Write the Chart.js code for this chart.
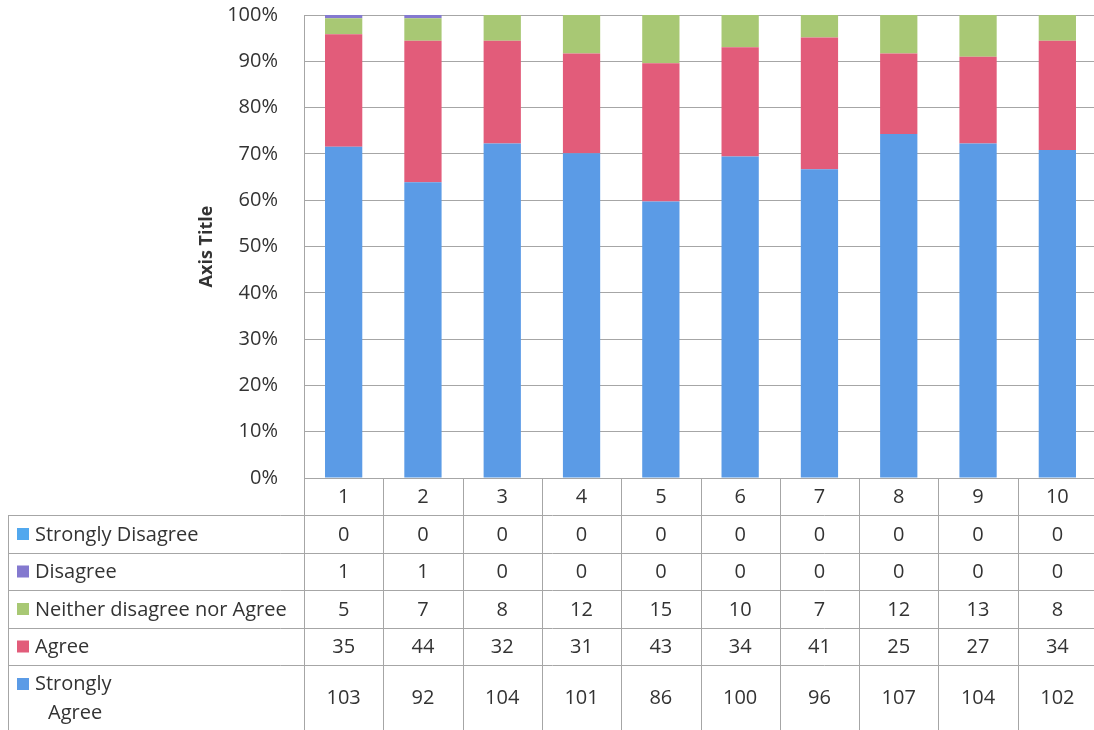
<!DOCTYPE html>
<html>
<head>
<meta charset="utf-8">
<script src="https://cdn.jsdelivr.net/npm/chart.js@4.4.1/dist/chart.umd.min.js"></script>
<style>
  body { margin: 0; background: #fff; overflow: hidden; }
  #wrap { width: 1098px; height: 730px; }
</style>
</head>
<body>
<div id="wrap"><canvas id="chart" width="1098" height="730"></canvas></div>
<script>
const categories = ['1', '2', '3', '4', '5', '6', '7', '8', '9', '10'];

const stronglyDisagree = [0, 0, 0, 0, 0, 0, 0, 0, 0, 0];
const disagree = [1, 1, 0, 0, 0, 0, 0, 0, 0, 0];
const neither = [5, 7, 8, 12, 15, 10, 7, 12, 13, 8];
const agree = [35, 44, 32, 31, 43, 34, 41, 25, 27, 34];
const stronglyAgree = [103, 92, 104, 101, 86, 100, 96, 107, 104, 102];

const seriesNames = ['Strongly Disagree', 'Disagree', 'Neither disagree nor Agree', 'Agree', 'Strongly Agree'];
const seriesColors = ['#52a8ee', '#8479cf', '#a8c874', '#e25c7a', '#5b9be6'];
const seriesValues = [stronglyDisagree, disagree, neither, agree, stronglyAgree];

const FONT = "'Open Sans', 'Noto Sans', sans-serif";
const TEXT = '#333333';
const LINE = '#a6a6a6';

// 100% stacked: each column as share of its total
const totals = categories.map((c, i) => seriesValues.reduce((s, arr) => s + arr[i], 0));
const share = arr => arr.map((v, i) => v / totals[i] * 100);

// bottom of stack first
const datasets = seriesNames.map((name, k) => ({
    label: name,
    data: share(seriesValues[k]),
    backgroundColor: seriesColors[k],
    borderWidth: 0,
    categoryPercentage: 1,
    barPercentage: 0.47
})).reverse();

const tablePlugin = {
    id: 'dataTable',
    afterDraw(chart) {
        const ctx = chart.ctx;
        const area = chart.chartArea;
        const n = categories.length;
        const colW = (area.right - area.left) / n;
        const headTop = area.bottom;
        const rowTops = [headTop, 515, 553, 590, 628, 665, 730];
        const tableLeft = 8;

        ctx.save();
        ctx.strokeStyle = LINE;
        ctx.lineWidth = 1;

        // horizontal lines
        ctx.beginPath();
        for (let r = 1; r < rowTops.length - 1; r++) {
            const y = Math.round(rowTops[r]) + 0.5;
            ctx.moveTo(tableLeft, y);
            ctx.lineTo(area.right, y);
        }
        // vertical lines
        for (let i = 0; i <= n; i++) {
            const x = Math.round(area.left + i * colW) + 0.5;
            ctx.moveTo(x, headTop);
            ctx.lineTo(x, rowTops[rowTops.length - 1]);
        }
        ctx.moveTo(tableLeft + 0.5, rowTops[1]);
        ctx.lineTo(tableLeft + 0.5, rowTops[rowTops.length - 1]);
        ctx.stroke();

        ctx.fillStyle = TEXT;
        ctx.font = '20px ' + FONT;
        ctx.textBaseline = 'middle';

        // header row
        ctx.textAlign = 'center';
        categories.forEach((c, i) => {
            ctx.fillText(c, area.left + (i + 0.5) * colW, (rowTops[0] + rowTops[1]) / 2 + 1);
        });

        // series rows
        seriesNames.forEach((name, k) => {
            const top = rowTops[k + 1];
            const bottom = rowTops[k + 2];
            const mid = (top + bottom) / 2;
            seriesValues[k].forEach((v, i) => {
                ctx.textAlign = 'center';
                ctx.fillStyle = TEXT;
                ctx.fillText(String(v), area.left + (i + 0.5) * colW, mid + 1);
            });
            const keyY = k === seriesNames.length - 1 ? top + 19 : mid;
            ctx.fillStyle = seriesColors[k];
            ctx.fillRect(17, keyY - 6, 12, 12);
            ctx.fillStyle = TEXT;
            ctx.textAlign = 'left';
            if (k === seriesNames.length - 1) {
                const parts = name.split(' ');
                ctx.fillText(parts[0], 35, top + 19);
                ctx.fillText(parts[1], 48, top + 48);
            } else {
                ctx.fillText(name, 35, mid + 1);
            }
        });
        ctx.restore();
    }
};

new Chart(document.getElementById('chart').getContext('2d'), {
    type: 'bar',
    data: { labels: categories, datasets: datasets },
    options: {
        responsive: false,
        animation: false,
        layout: { padding: { left: 196, top: 15, right: 1, bottom: 252 } },
        plugins: {
            legend: { display: false },
            tooltip: { enabled: false }
        },
        scales: {
            x: {
                stacked: true,
                display: false
            },
            y: {
                stacked: true,
                min: 0,
                max: 100,
                afterFit: scale => {
                    scale.width = 108;
                    scale.paddingTop = 0;
                    scale.paddingBottom = 0;
                },
                ticks: {
                    stepSize: 10,
                    padding: 26,
                    color: TEXT,
                    font: { family: FONT, size: 20 },
                    callback: v => v + '%'
                },
                grid: { color: LINE, drawTicks: false },
                border: { color: LINE },
                title: {
                    display: true,
                    text: 'Axis Title',
                    color: TEXT,
                    padding: 0,
                    font: { family: FONT, size: 18, weight: 'bold' }
                }
            }
        }
    },
    plugins: [tablePlugin]
});
</script>
</body>
</html>
